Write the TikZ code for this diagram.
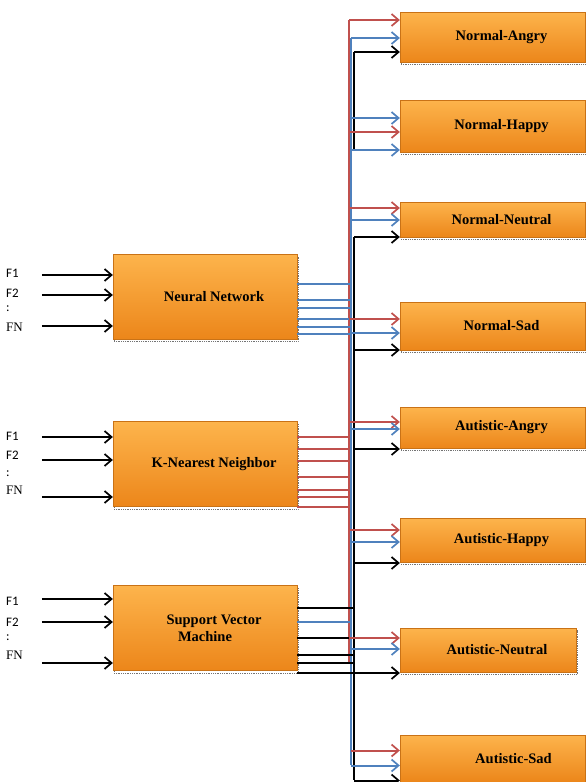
\documentclass[tikz,border=0pt]{standalone}
\usepackage{fontspec}
\setmainfont{Liberation Serif}
\newfontfamily\calfont{Carlito}
\usepackage{tikz}
\usetikzlibrary{arrows.meta,shadows}
\definecolor{lnred}{HTML}{C0504D}
\definecolor{lnblue}{HTML}{4F81BD}
\definecolor{orlight}{HTML}{FDB44C}
\definecolor{ordark}{HTML}{EC861A}

\begin{document}
\begin{tikzpicture}[x=1pt, y=-1pt,
  font=\fontsize{14.5}{17}\selectfont\bfseries,
  box/.style={draw=ordark!85!black, line width=0.3pt, top color=orlight, bottom color=ordark,
              align=center, inner sep=0pt, minimum width=185pt,
              execute at begin node={\hspace*{18pt}},
              general shadow={fill=none, draw=black!55, densely dotted, line width=0.8pt,
                              shadow xshift=1pt, shadow yshift=-2.5pt}},
  clf/.style={box, minimum width=184pt, minimum height=85pt},
  feat/.style={font=\calfont\fontsize{13}{14}\selectfont, anchor=west, inner sep=0pt},
  wire/.style={line width=2pt},
  arr/.style={wire, -{Straight Barb[length=7pt, width=12pt, line width=1.7pt]}}]
\useasboundingbox (0,0) rectangle (586,782);

% classifiers
\node[clf] (nnet) at (205,296.5) {Neural Network};
\node[clf] (knn) at (205,464) {K-Nearest Neighbor};
\node[clf] (svm) at (205,628) {Support Vector\\\hspace*{-18pt}Machine};

% classes
\node[box, minimum height=50pt] (nang) at (492.5,37) {Normal-Angry};
\node[box, minimum height=52pt] (nhap) at (492.5,126) {Normal-Happy};
\node[box, minimum height=35pt] (nneu) at (492.5,219.5) {Normal-Neutral};
\node[box, minimum height=48pt] (nsad) at (492.5,326) {Normal-Sad};
\node[box, minimum height=41pt] (aang) at (492.5,427.5) {Autistic-Angry};
\node[box, minimum height=44pt] (ahap) at (492.5,540) {Autistic-Happy};
\node[box, minimum height=44pt, minimum width=176pt] (aneu) at (488,650) {Autistic-Neutral};
\node[box, minimum height=47pt] (asad) at (492.5,758.5) {\hspace*{24pt}Autistic-Sad};

% features
\foreach \y/\t [count=\i] in {273/F1, 293/F2, 309/:, 327/{\rmfamily FN},
                              436/F1, 455/F2, 474/:, 490/{\rmfamily FN},
                              601/F1, 622/F2, 638/:, 655/{\rmfamily FN}}
  \node[feat] (f\i) at (6,\y) {\t};
\foreach \b/\d in {nnet/21.5, nnet/1.5, nnet/-29.5, knn/27, knn/4, knn/-33, svm/29, svm/6, svm/-35} {
  \coordinate (h) at ([yshift=\d pt]\b.west);
  \coordinate (g) at ([xshift=-71pt]h);
  \draw[arr] (g) -- (h);
}

% buses
\coordinate (rtop) at (349,20); \coordinate (rbot) at (349,662);
\coordinate (btop) at (351,38); \coordinate (bbot) at (351,765);
\coordinate (ktop) at (354,52); \coordinate (kmid) at (354,150);
\coordinate (kres) at (354,237); \coordinate (kbot) at (354,780);
\draw[wire, lnred] (rtop) -- (rbot);
\draw[wire, lnblue] (btop) -- (bbot);
\draw[wire, line width=2.4pt] (ktop) -- (kmid) (kres) -- (kbot);

% classifier outputs
\foreach \b/\c/\e/\d in {nnet/lnblue/btop/12.5, nnet/lnblue/btop/-3.5, nnet/lnblue/btop/-11.5,
                         nnet/lnblue/btop/-22.5, nnet/lnblue/btop/-30.5, nnet/lnblue/btop/-37.5,
                         knn/lnred/rtop/27, knn/lnred/rtop/15, knn/lnred/rtop/3, knn/lnred/rtop/-13,
                         knn/lnred/rtop/-26, knn/lnred/rtop/-33, knn/lnred/rtop/-43,
                         svm/black/ktop/20, svm/lnblue/btop/6, svm/black/ktop/-10,
                         svm/black/ktop/-27, svm/black/ktop/-35, svm/black/ktop/-45} {
  \coordinate (s) at ([yshift=\d pt]\b.east);
  \draw[wire, \c] (s) -- (\e |- s);
}

% class inputs
\foreach \c/\s/\b/\d in {lnred/rtop/nang/17, lnblue/btop/nang/-1, black/ktop/nang/-15,
                         lnblue/btop/nhap/8, lnred/rtop/nhap/-6, lnblue/btop/nhap/-24,
                         lnred/rtop/nneu/11.5, lnblue/btop/nneu/-0.5, black/ktop/nneu/-17.5,
                         lnred/rtop/nsad/7, lnblue/btop/nsad/-7, black/ktop/nsad/-24,
                         lnred/rtop/aang/5.5, lnblue/btop/aang/-1.5, black/ktop/aang/-21.5,
                         lnred/rtop/ahap/10, lnblue/btop/ahap/-2, black/ktop/ahap/-23,
                         lnred/rtop/aneu/12, lnblue/btop/aneu/1, black/ktop/aneu/-23,
                         lnred/btop/asad/8, lnblue/btop/asad/-7, black/ktop/asad/-22} {
  \coordinate (t) at ([yshift=\d pt]\b.west);
  \draw[arr, \c] (\s |- t) -- (t);
}
\end{tikzpicture}
\end{document}
